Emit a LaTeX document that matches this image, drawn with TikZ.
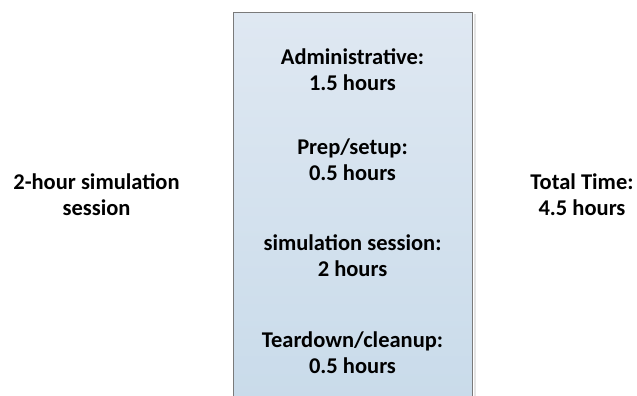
\documentclass[tikz,border=0pt]{standalone}
\usepackage{fontspec}
\setmainfont{Carlito}
\begin{document}
\begin{tikzpicture}[x=1pt,y=-1pt,
  lbl/.style={font=\bfseries\fontsize{22.5}{26}\selectfont, align=center,
    text=black, inner sep=0pt, anchor=base}]
\definecolor{boxtop}{HTML}{DFE8F2}
\definecolor{boxbot}{HTML}{C9DBEA}
\definecolor{boxline}{HTML}{7A7A7A}
\definecolor{boxshade}{HTML}{E4E4E4}
\useasboundingbox (0,0) rectangle (637,396);
% time column with a soft edge on its right side
\draw[boxshade, line width=2pt] (474.5,14) -- (474.5,400);
\shade[top color=boxtop, bottom color=boxbot, draw=boxline, line width=0.9pt]
  (233.5,12.5) rectangle (472,400);
% labels are placed by the baseline of their last line
\node[lbl] (admin) at (352.5,90) {Administrative:\\1.5 hours};
\node[lbl] (prep) at (352.5,180) {Prep/setup:\\0.5 hours};
\node[lbl] (sim) at (352.5,276) {simulation session:\\2 hours};
\node[lbl] (tear) at (352.5,373) {Teardown/cleanup:\\0.5 hours};
\node[lbl] (left) at (96.5,215) {2-hour simulation\\session};
\node[lbl] (total) at (582,215) {Total Time:\\4.5 hours};
\end{tikzpicture}
\end{document}
